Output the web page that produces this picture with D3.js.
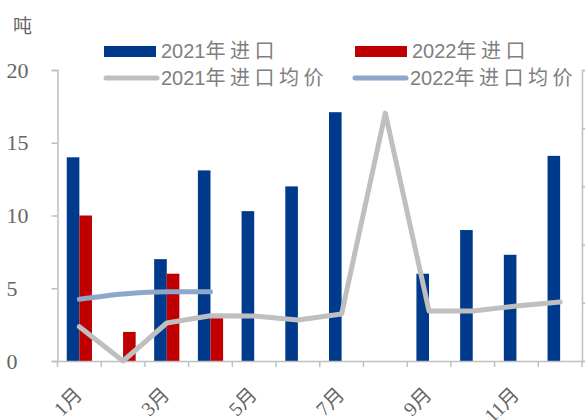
<!DOCTYPE html>
<html><head><meta charset="utf-8">
<script src="https://cdn.jsdelivr.net/npm/d3@7"></script>
<style>body{margin:0;background:#fff}</style>
</head><body>
<script>
const months = ["1月","2月","3月","4月","5月","6月","7月","8月","9月","10月","11月","12月"];
const import2021 = [14, 0, 7, 13.1, 10.3, 12, 17.1, 0, 6, 9, 7.3, 14.1];
const import2022 = [10, 2, 6, 3, null, null, null, null, null, null, null, null];
const price2021 = [5900, 0, 6530, 7780, 7730, 7040, 8070, 42600, 8590, 8590, 9450, 10140];
const price2022 = [10600, 11510, 11900, 11900];
const leftTicks = [0, 5, 10, 15, 20];
const rightTicks = [0, 10000, 20000, 30000, 40000, 50000];
const seriesNames = ["2021年进口", "2022年进口", "2021年进口均价", "2022年进口均价"];

const W = 585, H = 420;
const m = {l: 57.5, r: 3, t: 70, b: 59};
const svg = d3.select("body").append("svg").attr("width", W).attr("height", H);
const x = d3.scaleBand().domain(months).range([m.l, W - m.r]).paddingInner(0).paddingOuter(0);
const y = d3.scaleLinear().domain([0, 20]).range([H - m.b, m.t]);
const y2 = d3.scaleLinear().domain([0, 50000]).range([H - m.b, m.t]);
const axisCol = "#bfbfbf";
const textCol = "#666666";
const blue = "#003a8c", red = "#c00000", gray = "#bfbfbf", lblue = "#8ea6c9";
const bw = 12.6;

// bars
svg.append("g").selectAll("rect").data(import2021).join("rect")
  .attr("x", (d, i) => x(months[i]) + x.bandwidth() / 2 - bw)
  .attr("width", bw)
  .attr("y", d => y(d)).attr("height", d => y(0) - y(d)).attr("fill", blue);
svg.append("g").selectAll("rect").data(import2022.filter(d => d != null)).join("rect")
  .attr("x", (d, i) => x(months[i]) + x.bandwidth() / 2)
  .attr("width", bw)
  .attr("y", d => y(d)).attr("height", d => y(0) - y(d)).attr("fill", red);

// axes
const gl = svg.append("g").attr("transform", `translate(${m.l},0)`)
  .call(d3.axisLeft(y).tickValues(leftTicks).tickSize(6).tickFormat(d3.format("d")));
const gr = svg.append("g").attr("transform", `translate(${W - m.r},0)`)
  .call(d3.axisRight(y2).tickValues(rightTicks).tickSize(6).tickFormat(""));
const gb = svg.append("g").attr("transform", `translate(0,${H - m.b})`)
  .call(d3.axisBottom(x).tickSize(0).tickFormat(""));
gb.selectAll(".tick").remove();
const bounds = months.map(mo => x(mo)).concat([W - m.r]);
gb.selectAll("line.bt").data(bounds).join("line").attr("class", "bt")
  .attr("x1", d => d).attr("x2", d => d).attr("y1", 0).attr("y2", 6)
  .attr("stroke", axisCol).attr("stroke-width", 1.5);
[gl, gr, gb].forEach(g => {
  g.select(".domain").attr("stroke", axisCol).attr("stroke-width", 1.5);
  g.selectAll(".tick line").attr("stroke", axisCol).attr("stroke-width", 1.5);
});
gl.selectAll(".tick text").attr("fill", textCol).attr("font-size", 22)
  .attr("font-family", "Liberation Serif, serif").attr("text-anchor", "start").attr("x", -51);

// x labels
svg.append("g").selectAll("text").data(months.filter((d, i) => i % 2 === 0)).join("text")
  .attr("transform", d => `translate(${x(d) + x.bandwidth() / 2 - 1},${H - m.b + 30}) rotate(-45)`)
  .attr("text-anchor", "end").attr("dy", "0.35em")
  .attr("font-size", 20).attr("font-family", "Liberation Serif, 'Noto Sans CJK SC', serif")
  .attr("fill", textCol).text(d => d);

// lines
const cx = (d, i) => x(months[i]) + x.bandwidth() / 2;
svg.append("path").datum(price2021)
  .attr("d", d3.line().x(cx).y(d => y2(d)))
  .attr("fill", "none").attr("stroke", gray).attr("stroke-width", 5).attr("stroke-linejoin", "round").attr("stroke-linecap", "round");
svg.append("path").datum(price2022)
  .attr("d", d3.line().x(cx).y(d => y2(d)).curve(d3.curveMonotoneX))
  .attr("fill", "none").attr("stroke", lblue).attr("stroke-width", 5).attr("stroke-linecap", "round");

// unit label
svg.append("text").attr("x", 13).attr("y", 33).attr("font-size", 19)
  .attr("font-family", "'Noto Sans CJK SC', serif").attr("fill", textCol).text("吨");

// legend
const leg = svg.append("g");
const items = [
  {x: 104, y: 51, type: "rect", color: blue, name: seriesNames[0]},
  {x: 355, y: 51, type: "rect", color: red, name: seriesNames[1]},
  {x: 104, y: 78, type: "line", color: gray, name: seriesNames[2]},
  {x: 353, y: 78, type: "line", color: lblue, name: seriesNames[3]}
];
items.forEach(it => {
  if (it.type === "rect") {
    leg.append("rect").attr("x", it.x).attr("y", it.y - 5).attr("width", 52).attr("height", 11).attr("fill", it.color);
  } else {
    leg.append("line").attr("x1", it.x + 2).attr("x2", it.x + 53).attr("y1", it.y).attr("y2", it.y)
      .attr("stroke", it.color).attr("stroke-width", 5).attr("stroke-linecap", "round");
  }
  const t = leg.append("text").attr("x", it.x + 57).attr("y", it.y).attr("dy", "0.36em")
    .attr("font-size", 20).attr("font-family", "'Liberation Sans', 'Noto Sans CJK SC', sans-serif")
    .attr("fill", "#7f7f7f");
  const m1 = it.name.match(/^(\d+)(.*)$/);
  t.append("tspan").text(m1[1]);
  t.append("tspan").attr("letter-spacing", 4.5).text(m1[2]);
});
</script>
</body></html>
